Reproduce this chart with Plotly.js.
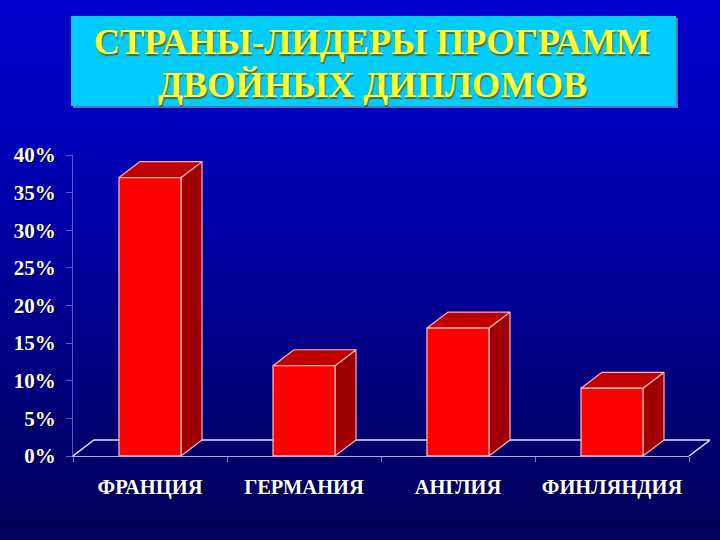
<!DOCTYPE html>
<html>
<head>
<meta charset="utf-8">
<script src="https://cdn.plot.ly/plotly-3.0.1.min.js"></script>
<style>
html,body{margin:0;padding:0;width:720px;height:540px;overflow:hidden;background:linear-gradient(180deg,#0000cc 0%,#0000c0 20%,#00009a 50%,#000070 80%,#000058 100%);}
#chart{width:720px;height:540px;}
</style>
</head>
<body>
<div id="chart"></div>
<script>
const categories = ['ФРАНЦИЯ', 'ГЕРМАНИЯ', 'АНГЛИЯ', 'ФИНЛЯНДИЯ'];
const shares = [37, 12, 17, 9];
const yTicks = [0, 5, 10, 15, 20, 25, 30, 35, 40];
const titleLines = ['СТРАНЫ-ЛИДЕРЫ ПРОГРАММ', 'ДВОЙНЫХ ДИПЛОМОВ'];

const W = 720, H = 540;
const M = {l: 73, r: 10, t: 155, b: 84};
const axisRight = 689;
const plotW = W - M.l - M.r, plotH = H - M.t - M.b;
const catW = (axisRight - M.l) / categories.length;
const barW = 62 / catW, dx = 21 / catW, dy = 2.12;
const px = x => (x - M.l) / plotW;
const py = y => (H - M.b - y) / plotH;

const serif = '"Liberation Serif", serif';
const edge = '#ffb4b4';
const textShadow = '1px 1px 1px #000030';
const titleFont = {family: serif, size: 36.4, color: '#ffff33', weight: 700, shadow: '1px 2px 1px #4a6a40'};

function poly(xs, ys, fill) {
  return {type: 'scatter', mode: 'lines', x: xs, y: ys, xaxis: 'x', yaxis: 'y',
    fill: 'toself', fillcolor: fill, line: {color: edge, width: 1.2},
    hoverinfo: 'skip', showlegend: false};
}

const traces = [];
// floor
traces.push({type: 'scatter', mode: 'lines', xaxis: 'x', yaxis: 'y',
  x: [-0.5, -0.5 + dx, 3.5 + dx, 3.5], y: [0, dy, dy, 0],
  line: {color: '#e0e0ff', width: 1.4}, hoverinfo: 'skip', showlegend: false});
// sides and tops
shares.forEach((v, i) => {
  const l = i - barW / 2, r = i + barW / 2;
  traces.push(poly([r, r + dx, r + dx, r, r], [0, dy, v + dy, v, 0], '#a00000'));
  traces.push(poly([l, l + dx, r + dx, r, l], [v, v + dy, v + dy, v, v], '#c00000'));
});
// front faces
traces.push({type: 'bar', x: categories, y: shares, xaxis: 'x2', yaxis: 'y', width: barW,
  marker: {color: '#ff0000', line: {color: edge, width: 1.3}}, showlegend: false, cliponaxis: false});

const layout = {
  width: W, height: H, autosize: false,
  margin: {l: M.l, r: M.r, t: M.t, b: M.b, pad: 0},
  paper_bgcolor: 'rgba(0,0,0,0)', plot_bgcolor: 'rgba(0,0,0,0)',
  showlegend: false,
  title: {text: titleLines[0], xref: 'paper', yref: 'container', x: px(372), xanchor: 'center',
    y: 1 - 41 / H, yanchor: 'middle', font: titleFont},
  // depth layer: wider than the category axis so the floor can run past it
  xaxis: {type: 'linear', domain: [0, 1], range: [-0.5, -0.5 + plotW / catW], visible: false, fixedrange: true},
  xaxis2: {type: 'category', domain: [0, px(axisRight)], anchor: 'y', side: 'bottom', range: [-0.5, 3.5],
    categoryorder: 'array', categoryarray: categories,
    tickson: 'boundaries', ticks: 'outside', ticklen: 5, tickcolor: '#8080e8', tickwidth: 1,
    ticklabelstandoff: 12,
    showline: true, linecolor: '#a8a8ff', linewidth: 1.3, showgrid: false, zeroline: false,
    tickfont: {family: serif, size: 20.5, color: '#ffffff', weight: 700, shadow: textShadow},
    fixedrange: true},
  yaxis: {anchor: 'x2', range: [0, 40], tickvals: yTicks, ticktext: yTicks.map(v => v + '%'), tickmode: 'array',
    ticks: 'outside', ticklen: 6, tickcolor: '#5858d8', tickwidth: 1, ticklabelstandoff: 6,
    showline: true, linecolor: '#5858d8', linewidth: 1, showgrid: false, zeroline: false,
    tickfont: {family: serif, size: 21, color: '#ffffff', weight: 700, shadow: textShadow},
    fixedrange: true},
  shapes: [
    {type: 'rect', layer: 'below', xref: 'paper', yref: 'paper', x0: px(73), x1: px(678), y0: py(18), y1: py(108),
      fillcolor: '#6070b8', line: {width: 0}},
    {type: 'rect', layer: 'below', xref: 'paper', yref: 'paper', x0: px(71), x1: px(676), y0: py(16), y1: py(106),
      fillcolor: '#00ccff', line: {width: 0}}
  ],
  annotations: [
    {text: titleLines[1], xref: 'paper', yref: 'paper', x: px(372), y: py(85), xanchor: 'center', yanchor: 'middle',
      showarrow: false, font: titleFont}
  ]
};

Plotly.newPlot('chart', traces, layout, {displayModeBar: false, responsive: false});
</script>
</body>
</html>
